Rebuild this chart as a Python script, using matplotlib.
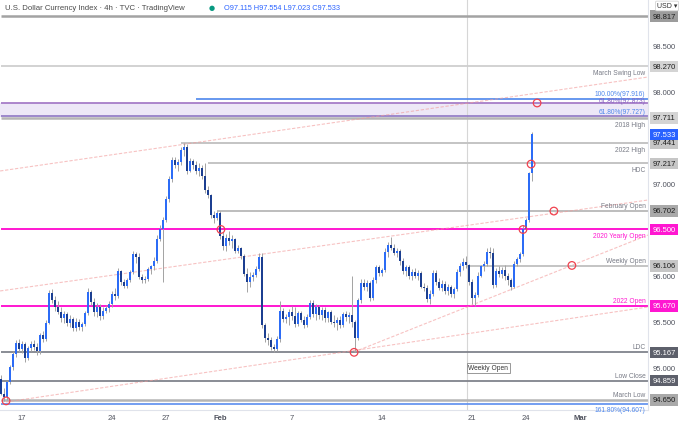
import matplotlib
matplotlib.use('Agg')
import matplotlib.pyplot as plt
from matplotlib.transforms import blended_transform_factory

plt.rcParams['font.family'] = ['Liberation Sans', 'DejaVu Sans']

# 4h candles, DXY (TVC), mid Jan -> 24 Feb 2022
opens = [
    94.88, 94.72, 94.68, 94.84, 95.01, 95.15, 95.27, 95.20, 95.26, 95.10,
    95.21, 95.26, 95.22, 95.18, 95.35, 95.31, 95.49, 95.81, 95.73, 95.66,
    95.61, 95.54, 95.58, 95.48, 95.53, 95.43, 95.50, 95.44, 95.47, 95.59,
    95.82, 95.71, 95.60, 95.66, 95.56, 95.62, 95.65, 95.69, 95.80, 95.78,
    96.05, 95.93, 95.89, 95.95, 96.04, 96.23, 96.20, 95.98, 95.95, 95.96,
    96.07, 96.10, 96.16, 96.40, 96.51, 96.60, 96.83, 97.05, 97.25, 97.20,
    97.23, 97.36, 97.40, 97.14, 97.24, 97.20, 97.13, 97.17, 97.08, 96.93,
    96.87, 96.66, 96.62, 96.68, 96.43, 96.32, 96.41, 96.37, 96.40, 96.27,
    96.30, 96.21, 96.02, 95.93, 95.98, 96.01, 96.07, 96.20, 95.46, 95.32,
    95.30, 95.22, 95.20, 95.31, 95.62, 95.53, 95.55, 95.60, 95.56, 95.47,
    95.59, 95.52, 95.46, 95.55, 95.70, 95.58, 95.66, 95.57, 95.63, 95.54,
    95.60, 95.50, 95.48, 95.52, 95.46, 95.58, 95.55, 95.57, 95.50, 95.32,
    95.73, 95.92, 95.88, 95.92, 95.76, 95.95, 96.09, 96.03, 96.06, 96.26,
    96.33, 96.30, 96.25, 96.27, 96.16, 96.05, 96.09, 95.99, 96.04, 96.00,
    96.03, 95.88, 95.86, 95.75, 95.80, 96.03, 95.93, 95.87, 95.91, 95.83,
    95.88, 95.80, 95.85, 96.04, 96.10, 96.15, 96.11, 95.93, 95.76, 95.79,
    96.00, 96.10, 96.13, 96.26, 96.24, 95.90, 96.05, 96.02, 96.06, 95.99,
    95.95, 95.88, 96.13, 96.18, 96.23, 96.51, 96.60, 97.115,
]
highs = [
    94.92, 94.78, 94.86, 95.03, 95.18, 95.30, 95.31, 95.29, 95.28, 95.24,
    95.29, 95.30, 95.27, 95.38, 95.40, 95.52, 95.84, 95.85, 95.78, 95.72,
    95.66, 95.62, 95.60, 95.57, 95.55, 95.54, 95.53, 95.50, 95.62, 95.86,
    95.84, 95.76, 95.70, 95.69, 95.66, 95.68, 95.72, 95.83, 95.86, 96.08,
    96.06, 95.96, 95.97, 96.06, 96.27, 96.26, 96.24, 96.02, 95.99, 96.09,
    96.12, 96.20, 96.44, 96.55, 96.64, 96.86, 97.08, 97.29, 97.29, 97.26,
    97.39, 97.441, 97.43, 97.28, 97.27, 97.24, 97.22, 97.20, 97.217, 96.97,
    96.89, 96.70, 96.702, 96.70, 96.47, 96.45, 96.48, 96.44, 96.41, 96.33,
    96.31, 96.23, 96.08, 96.04, 96.04, 96.10, 96.24, 96.25, 95.48, 95.38,
    95.33, 95.26, 95.34, 95.72, 95.65, 95.58, 95.64, 95.67, 95.66, 95.62,
    95.62, 95.56, 95.58, 95.73, 95.73, 95.69, 95.68, 95.66, 95.66, 95.62,
    95.63, 95.57, 95.55, 95.56, 95.61, 95.62, 95.60, 96.00, 95.52, 95.76,
    95.96, 95.96, 95.95, 95.94, 95.98, 96.12, 96.11, 96.08, 96.30, 96.36,
    96.42, 96.34, 96.30, 96.29, 96.19, 96.12, 96.11, 96.07, 96.08, 96.06,
    96.05, 95.92, 95.90, 95.84, 96.06, 96.06, 95.97, 95.95, 95.94, 95.91,
    95.90, 95.88, 96.07, 96.14, 96.19, 96.21, 96.13, 95.96, 95.82, 96.04,
    96.12, 96.16, 96.30, 96.31, 96.30, 96.08, 96.10, 96.09, 96.12, 96.03,
    95.97, 96.16, 96.20, 96.26, 96.55, 96.63, 97.12, 97.554,
]
lows = [
    94.70, 94.64, 94.65, 94.82, 94.98, 95.12, 95.17, 95.16, 95.06, 95.08,
    95.18, 95.19, 95.14, 95.15, 95.28, 95.29, 95.47, 95.70, 95.62, 95.58,
    95.50, 95.49, 95.45, 95.44, 95.40, 95.40, 95.41, 95.40, 95.45, 95.57,
    95.68, 95.56, 95.55, 95.52, 95.53, 95.59, 95.61, 95.66, 95.74, 95.76,
    95.90, 95.86, 95.87, 95.93, 96.02, 96.14, 95.96, 95.92, 95.92, 95.94,
    96.02, 96.06, 96.14, 96.37, 95.93, 96.58, 96.80, 97.02, 97.17, 97.13,
    97.20, 97.30, 97.10, 97.12, 97.16, 97.10, 97.08, 97.05, 96.90, 96.84,
    96.62, 96.57, 96.60, 96.40, 96.28, 96.27, 96.33, 96.30, 96.25, 96.24,
    96.18, 95.99, 95.82, 95.88, 95.94, 95.98, 96.05, 95.43, 95.28, 95.25,
    95.19, 95.167, 95.18, 95.28, 95.50, 95.48, 95.46, 95.52, 95.44, 95.45,
    95.50, 95.43, 95.44, 95.53, 95.55, 95.52, 95.53, 95.52, 95.50, 95.50,
    95.47, 95.44, 95.41, 95.43, 95.44, 95.51, 95.48, 95.44, 95.167, 95.30,
    95.70, 95.84, 95.83, 95.72, 95.74, 95.92, 96.00, 96.00, 96.04, 96.20,
    96.28, 96.22, 96.20, 96.12, 96.02, 96.00, 95.96, 95.95, 95.97, 95.95,
    95.86, 95.83, 95.71, 95.69, 95.78, 95.90, 95.84, 95.83, 95.80, 95.79,
    95.77, 95.76, 95.83, 96.00, 96.06, 96.08, 95.90, 95.69, 95.67, 95.77,
    95.98, 96.05, 96.10, 96.19, 95.86, 95.88, 95.98, 95.97, 95.95, 95.90,
    95.84, 95.86, 96.10, 96.15, 96.21, 96.48, 96.58, 97.023,
]
closes = [
    94.72, 94.68, 94.84, 95.01, 95.15, 95.27, 95.20, 95.26, 95.10, 95.21,
    95.26, 95.22, 95.18, 95.35, 95.31, 95.49, 95.81, 95.73, 95.66, 95.61,
    95.54, 95.58, 95.48, 95.53, 95.43, 95.50, 95.44, 95.47, 95.59, 95.82,
    95.71, 95.60, 95.66, 95.56, 95.62, 95.65, 95.69, 95.80, 95.78, 96.05,
    95.93, 95.89, 95.95, 96.04, 96.23, 96.20, 95.98, 95.95, 95.96, 96.07,
    96.10, 96.16, 96.40, 96.51, 96.60, 96.83, 97.05, 97.25, 97.20, 97.23,
    97.36, 97.40, 97.14, 97.24, 97.20, 97.13, 97.17, 97.08, 96.93, 96.87,
    96.66, 96.62, 96.68, 96.43, 96.32, 96.41, 96.37, 96.40, 96.27, 96.30,
    96.21, 96.02, 95.93, 95.98, 96.01, 96.07, 96.20, 95.46, 95.32, 95.30,
    95.22, 95.20, 95.31, 95.62, 95.53, 95.55, 95.60, 95.56, 95.47, 95.59,
    95.52, 95.46, 95.55, 95.70, 95.58, 95.66, 95.57, 95.63, 95.54, 95.60,
    95.50, 95.48, 95.52, 95.46, 95.58, 95.55, 95.57, 95.50, 95.32, 95.73,
    95.92, 95.88, 95.92, 95.76, 95.95, 96.09, 96.03, 96.06, 96.26, 96.33,
    96.30, 96.25, 96.27, 96.16, 96.05, 96.09, 95.99, 96.04, 96.00, 96.03,
    95.88, 95.86, 95.75, 95.80, 96.03, 95.93, 95.87, 95.91, 95.83, 95.88,
    95.80, 95.85, 96.04, 96.10, 96.15, 96.11, 95.93, 95.76, 95.79, 96.00,
    96.10, 96.13, 96.26, 96.24, 95.90, 96.05, 96.02, 96.06, 95.99, 95.95,
    95.88, 96.13, 96.18, 96.23, 96.51, 96.60, 97.115, 97.533,
]

date_ticks = [7, 37, 55, 73, 97, 127, 157, 175, 193]
date_labels = ['17', '24', '27', 'Feb', '7', '14', '21', '24', 'Mar']

# horizontal levels: value, name, bar where the line starts
levels = [98.817, 98.270, 97.711, 97.441, 97.217, 96.702, 96.500, 96.106, 95.670, 95.167, 94.859, 94.650]
level_names = ['', 'March Swing Low', '2018 High', '2022 High', 'HDC', 'February Open',
               '2020 Yearly Open', 'Weekly Open', '2022 Open', 'LDC', 'Low Close', 'March Low']
level_start = [0, 0, 0, 60, 69, 72, 0, 155.5, 0, 0, 0, 0]

fib_levels = [97.916, 97.873, 97.727, 94.607]
fib_names = ['100.00%', '61.80%', '61.80%', '161.80%']
fib_start = [65, 0, 0, 0]

# trendlines (bar, price) -> (bar, price)
trendlines = [
    ((-0.3, 97.135), (215.7, 98.155)),
    ((-0.3, 95.833), (215.7, 96.820)),
    ((1.7, 94.628), (215.7, 95.659)),
    ((117.7, 95.171), (215.7, 96.440)),
]
circle_bars = [1.7, 73.3, 117.7, 174.0, 176.7, 178.7, 184.3, 190.3]
circle_prices = [94.64, 96.50, 95.167, 96.50, 97.21, 97.873, 96.70, 96.11]

price_ticks = [95.0, 95.5, 96.0, 97.0, 98.0, 98.5]
last_price = closes[-1]
weekly_open_bar = 155.5

MAGENTA = '#ff17d1'
UP = '#2c6cf6'
DOWN = '#1c3f91'

fig = plt.figure(figsize=(6.79, 4.27), dpi=100)
fig.patch.set_facecolor('white')
ax = fig.add_axes([0, 16 / 427, 648 / 679, 411 / 427])
ax.set_xlim(-1 / 3, 215.67)
ax.set_ylim(94.541, 99.0015)

# fib band
ax.axhspan(fib_levels[2], fib_levels[1], color='#ede8f7', zorder=0)

# levels
line_style = {
    98.817: ('#a3a3a3', 1.8), 98.270: ('#cfcfcf', 1.3), 97.711: ('#b5b5b5', 1.8),
    97.441: ('#c4c4c4', 1.4), 97.217: ('#c4c4c4', 1.4), 96.702: ('#bdbdbd', 1.4),
    96.500: (MAGENTA, 1.4), 96.106: ('#c4c4c4', 1.4), 95.670: (MAGENTA, 1.4),
    95.167: ('#80838c', 1.3), 94.859: ('#80838c', 1.3), 94.650: ('#b5b5b5', 1.8),
}
below = {'March Swing Low', '2018 High', '2022 High', 'HDC', '2020 Yearly Open'}
trans = blended_transform_factory(ax.transAxes, ax.transData)
for lv, name, st in zip(levels, level_names, level_start):
    col, lw = line_style[lv]
    ax.hlines(lv, st, 215.67, color=col, lw=lw, zorder=1)
    if name:
        tc = MAGENTA if col == MAGENTA else '#787b86'
        off, va = ((0, -2), 'top') if name in below else ((0, 1.5), 'bottom')
        ax.annotate(name, xy=(0.996, lv), xycoords=trans, xytext=off,
                    textcoords='offset points', ha='right', va=va, fontsize=4.8, color=tc)

fib_cols = ['#4d86ec', '#a074c4', '#8f78c4', '#5b8def']
for fv, fn, st, col in zip(fib_levels, fib_names, fib_start, fib_cols):
    ax.hlines(fv, st, 215.67, color=col, lw=1.2, zorder=1)
    off, va = ((0, -1.5), 'top') if fn == '161.80%' else ((0, 1.2), 'bottom')
    if fv == 97.873:
        off = (0, -1.0)
    ax.annotate('%s(%.3f)' % (fn, fv), xy=(0.996, fv), xycoords=trans, xytext=off,
                textcoords='offset points', ha='right', va=va, fontsize=4.8,
                color='#4d86ec' if fv != 97.873 else '#8a63c4')

# weekly open vertical
ax.axvline(weekly_open_bar, color='#d6d6d6', lw=0.8, zorder=0)
ax.text(weekly_open_bar + 0.3, 95.0, 'Weekly Open', fontsize=4.8, color='#333333',
        ha='left', va='center', zorder=5,
        bbox=dict(boxstyle='square,pad=0.25', fc='white', ec='#888888', lw=0.6))

# trendlines
for (x0, y0), (x1, y1) in trendlines:
    ax.plot([x0, x1], [y0, y1], color='#f29a9a', lw=0.8, alpha=0.6,
            linestyle=(0, (3, 1.5)), zorder=1)

# candles
idx = list(range(len(closes)))
ax.vlines(idx, lows, highs, color='#a3a3a3', lw=0.7, zorder=2)
bottoms = [min(o, c) for o, c in zip(opens, closes)]
heights = [max(abs(c - o), 0.008) for o, c in zip(opens, closes)]
colors = [UP if c >= o else DOWN for o, c in zip(opens, closes)]
ax.bar(idx, heights, bottom=bottoms, width=0.62, color=colors, lw=0, zorder=3)

ax.scatter(circle_bars, circle_prices, s=30, facecolors='none', edgecolors='#f0424f',
           linewidths=0.9, zorder=4)

# axes styling
for s in ['top', 'left']:
    ax.spines[s].set_visible(False)
ax.spines['right'].set_color('#e0e3eb')
ax.spines['bottom'].set_color('#e0e3eb')
ax.yaxis.tick_right()
ax.set_yticks(price_ticks)
ax.set_yticklabels(['%.3f' % v for v in price_ticks])
ax.tick_params(axis='y', length=0, pad=3, labelsize=5.5, labelcolor='#50535e')
ax.set_xticks(date_ticks)
ax.set_xticklabels(date_labels)
ax.tick_params(axis='x', length=0, pad=3, labelsize=5.5, labelcolor='#50535e')
for lab in ax.get_xticklabels():
    if lab.get_text() in ('Feb', 'Mar'):
        lab.set_fontweight('bold')

# price axis pills
pill = {
    98.817: ('#9c9c9c', '#1e1e1e'), 98.270: ('#d4d4d4', '#1e1e1e'), 97.711: ('#d4d4d4', '#1e1e1e'),
    97.441: ('#c6c6c6', '#1e1e1e'), 97.217: ('#c6c6c6', '#1e1e1e'), 96.702: ('#a9a9a9', '#1e1e1e'),
    96.500: (MAGENTA, 'white'), 96.106: ('#c6c6c6', '#1e1e1e'), 95.670: (MAGENTA, 'white'),
    95.167: ('#5d606b', 'white'), 94.859: ('#5d606b', 'white'), 94.650: ('#a9a9a9', '#1e1e1e'),
}
for lv in levels + [last_price]:
    fc, tc = pill.get(lv, ('#2962ff', 'white'))
    ax.text(1.0245, lv, '%.3f' % lv, transform=trans, ha='center', va='center',
            fontsize=5.5, color=tc, clip_on=False, zorder=6,
            bbox=dict(boxstyle='square,pad=0.3', fc=fc, ec='none'))

# header
fig.text(5 / 679, 1 - 8 / 427, 'U.S. Dollar Currency Index \u00b7 4h \u00b7 TVC \u00b7 TradingView',
         fontsize=5.6, color='#4a4a4a', ha='left', va='center')
fig.text(212 / 679, 1 - 8 / 427, '\u25cf', fontsize=5, color='#089981', ha='center', va='center',
         family=['DejaVu Sans'])
fig.text(224 / 679, 1 - 8 / 427, 'O97.115 H97.554 L97.023 C97.533',
         fontsize=5.3, color='#2962ff', ha='left', va='center')
fig.text(667 / 679, 1 - 7 / 427, 'USD \u25be', fontsize=5, color='#333333', ha='center', va='center',
         bbox=dict(boxstyle='round,pad=0.2', fc='white', ec='#cccccc', lw=0.5))

fig.savefig('out.png', dpi=100, facecolor='white')
